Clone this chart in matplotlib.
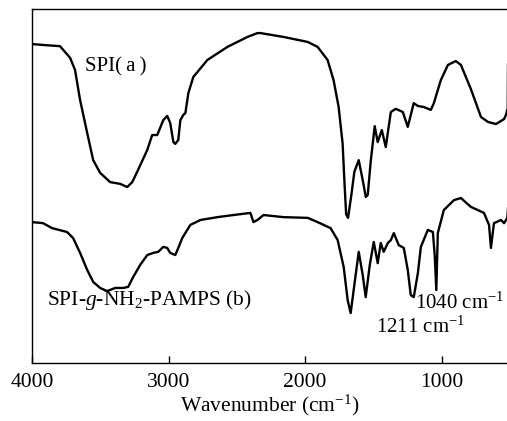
import matplotlib
matplotlib.use("Agg")
import matplotlib.pyplot as plt

plt.rcParams['font.family'] = ['Liberation Serif', 'DejaVu Serif']
plt.rcParams['mathtext.fontset'] = 'custom'
plt.rcParams['mathtext.rm'] = 'Liberation Serif'
plt.rcParams['mathtext.it'] = 'Liberation Serif:italic'

# Curve (a) SPI
wn_a = [4000, 3905, 3795, 3721, 3685, 3648, 3596, 3552, 3501, 3428, 3354, 3303, 3266, 3230,
        3156, 3120, 3083, 3039, 3010, 2988, 2965, 2951, 2929, 2914, 2892, 2877, 2855, 2819,
        2716, 2569, 2423, 2349, 2327, 2158, 1982, 1909, 1836, 1792, 1755, 1726, 1711, 1700,
        1686, 1660, 1640, 1608, 1579, 1556, 1542, 1520, 1491, 1469, 1439, 1410, 1373, 1337,
        1285, 1249, 1205, 1175, 1131, 1080, 1058, 1007, 955, 897, 860, 787, 713, 662, 603,
        544, 530, 517, 515]
t_a = [90.1, 89.8, 89.5, 86.2, 82.8, 74.3, 65.0, 57.3, 53.7, 51.1, 50.6, 49.7, 51.1, 54.0,
       60.2, 64.4, 64.4, 68.6, 69.8, 67.8, 62.4, 61.9, 63.0, 68.6, 70.1, 70.6, 76.3, 80.8,
       85.6, 89.3, 92.1, 93.2, 93.2, 92.1, 90.7, 89.3, 85.6, 79.9, 72.3, 62.0, 50.0, 42.0,
       41.0, 48.0, 54.0, 57.3, 51.7, 46.9, 47.5, 57.0, 66.9, 62.4, 65.8, 61.0, 70.9, 71.8,
       70.9, 66.7, 73.4, 72.6, 72.3, 71.5, 73.4, 79.9, 84.2, 85.3, 84.2, 77.4, 69.5, 68.1,
       67.5, 68.9, 70.1, 72.0, 85.0]

# Curve (b) SPI-g-NH2-PAMPS
wn_b = [4000, 3919, 3853, 3743, 3699, 3648, 3596, 3552, 3501, 3450, 3391, 3332, 3296, 3259,
        3208, 3156, 3112, 3076, 3039, 3010, 2988, 2951, 2929, 2900, 2841, 2767, 2643, 2525,
        2401, 2379, 2349, 2305, 2158, 1982, 1909, 1814, 1762, 1718, 1689, 1667, 1645, 1608,
        1579, 1557, 1527, 1498, 1469, 1447, 1425, 1395, 1373, 1351, 1315, 1278, 1249, 1227,
        1205, 1175, 1153, 1102, 1065, 1051, 1040, 1029, 985, 911, 860, 787, 691, 654, 640,
        618, 566, 544, 520, 515]
t_b = [39.8, 39.5, 38.1, 37.0, 35.3, 31.1, 26.3, 22.9, 21.2, 20.3, 21.2, 21.2, 21.5, 24.3,
       27.7, 30.5, 31.1, 31.4, 32.8, 32.5, 31.1, 30.5, 32.5, 35.3, 39.0, 40.4, 41.2, 41.8,
       42.4, 39.8, 40.4, 41.8, 41.2, 41.0, 39.8, 38.1, 34.7, 27.1, 17.8, 14.1, 20.6, 31.4,
       24.9, 18.6, 27.7, 34.2, 28.2, 33.9, 31.4, 33.9, 34.7, 36.7, 33.3, 32.5, 26.3, 19.2,
       18.6, 25.4, 32.8, 37.6, 37.0, 30.0, 20.6, 36.7, 43.2, 46.0, 46.6, 44.1, 42.4, 39.0,
       32.5, 39.5, 40.4, 39.5, 41.0, 43.8]

xticks = [4000, 3000, 2000, 1000]
xticklabels = ['4000', '3000', '2000', '1000']

fig = plt.figure(figsize=(5.07, 4.21), dpi=100)
ax = fig.add_axes([32 / 507, 1 - 363 / 421, 1 - 32 / 507 + 0.002, (363 - 9) / 421])
ax.plot(wn_a, t_a, color='black', lw=1.7)
ax.plot(wn_b, t_b, color='black', lw=1.7)
ax.set_xlim(4000, 515)
ax.set_ylim(0, 100)
ax.set_yticks([])
ax.set_xticks(xticks)
ax.set_xticklabels(xticklabels, fontsize=15.5)
ax.tick_params(axis='x', direction='in', length=5, width=1, pad=7)
ax.spines['right'].set_visible(False)
for s in ['left', 'top', 'bottom']:
    ax.spines[s].set_linewidth(1.0)
ax.set_xlabel('Wavenumber (cm$^{-1}$)', fontsize=15.5, labelpad=1)

ax.text(3611, 83.6, 'SPI(\u2009a\u2009)', fontsize=15, ha='left', va='center')
ax.text(3890, 17.8, 'SPI-$g$-NH$_2$-PAMPS (b)', fontsize=15.5, ha='left', va='center')
ax.text(867, 16.9, '1040 cm$^{-1}$', fontsize=15, ha='center', va='center')
ax.text(1153, 10.2, '1211 cm$^{-1}$', fontsize=15, ha='center', va='center')

fig.savefig('out.png', dpi=100)
